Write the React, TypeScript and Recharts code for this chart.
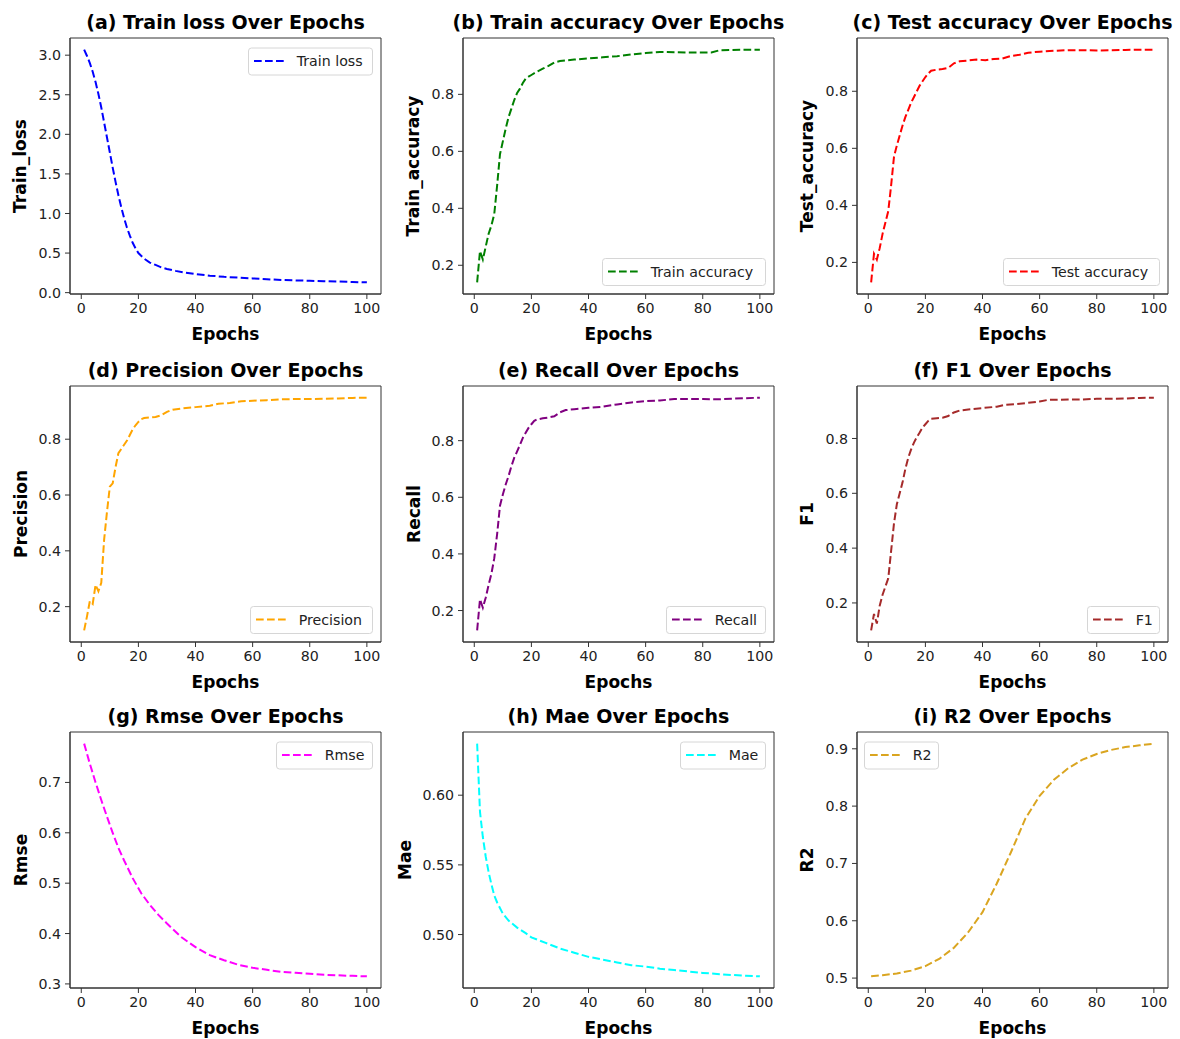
import React from 'react';
import { LineChart, Line, XAxis, YAxis, ReferenceArea } from 'recharts';

const FONT = '"DejaVu Sans", Verdana, sans-serif';

// ---------- data ----------
const xTicks = [0, 20, 40, 60, 80, 100];

const epochsLoss = [1,2,3,4,5,6,7,8,9,10,11,12,13,14,15,16,17,18,19,20,22,24,26,28,30,33,36,40,45,50,55,60,65,70,75,80,85,90,95,100];
const trainLoss = [3.07,2.99,2.90,2.79,2.66,2.51,2.34,2.15,1.96,1.77,1.58,1.40,1.23,1.08,0.94,0.82,0.72,0.63,0.56,0.50,0.43,0.38,0.35,0.32,0.30,0.275,0.255,0.235,0.215,0.20,0.19,0.18,0.17,0.16,0.155,0.15,0.145,0.14,0.135,0.13];

const epochsTrainAcc = [1,2,3,4,5,6,7,8,9,10,11,12,13,14,15,16,17,18,19,20,22,24,26,28,30,35,40,45,50,55,60,65,70,75,80,83,86,90,95,100];
const trainAcc = [0.14,0.25,0.22,0.265,0.31,0.34,0.38,0.48,0.59,0.635,0.68,0.72,0.75,0.78,0.805,0.82,0.84,0.855,0.862,0.868,0.88,0.89,0.90,0.912,0.917,0.922,0.926,0.93,0.934,0.94,0.945,0.949,0.948,0.947,0.947,0.947,0.955,0.956,0.957,0.957];

const epochsTestAcc = [1,2,3,4,5,6,7,8,9,10,11,12,13,14,15,16,17,18,19,20,21,22,24,26,28,30,32,35,38,41,44,47,50,53,56,60,65,70,75,80,85,90,95,100];
const testAcc = [0.13,0.23,0.21,0.25,0.30,0.34,0.38,0.47,0.57,0.61,0.645,0.68,0.71,0.735,0.76,0.78,0.80,0.82,0.835,0.85,0.862,0.872,0.876,0.878,0.882,0.898,0.905,0.908,0.911,0.909,0.913,0.915,0.924,0.928,0.935,0.939,0.942,0.944,0.944,0.943,0.944,0.945,0.946,0.946];

const epochsPrecision = [1,2,3,4,5,6,7,8,9,10,11,12,13,14,15,16,17,18,19,20,21,22,24,26,28,30,32,35,40,45,48,52,56,60,65,70,75,80,85,90,95,100];
const precision = [0.115,0.165,0.22,0.21,0.278,0.255,0.285,0.44,0.54,0.63,0.642,0.70,0.75,0.765,0.78,0.795,0.815,0.835,0.85,0.862,0.872,0.876,0.878,0.880,0.886,0.898,0.906,0.91,0.915,0.92,0.927,0.93,0.936,0.938,0.94,0.943,0.944,0.944,0.945,0.946,0.948,0.949];

const epochsRecall = [1,2,3,4,5,6,7,8,9,10,11,12,13,14,15,16,17,18,19,20,21,22,24,26,28,30,32,35,40,45,50,55,60,65,70,75,80,85,90,95,100];
const recall = [0.13,0.24,0.21,0.245,0.29,0.33,0.385,0.47,0.57,0.61,0.645,0.675,0.71,0.74,0.762,0.785,0.81,0.828,0.845,0.858,0.87,0.875,0.879,0.882,0.886,0.90,0.908,0.911,0.916,0.92,0.928,0.935,0.94,0.942,0.947,0.947,0.947,0.946,0.948,0.95,0.952];

const epochsF1 = [1,2,3,4,5,6,7,8,9,10,11,12,13,14,15,16,17,18,19,20,21,22,24,26,28,30,32,35,40,45,48,52,56,60,63,70,75,80,85,90,95,100];
const f1 = [0.10,0.16,0.125,0.19,0.23,0.26,0.29,0.39,0.49,0.56,0.60,0.64,0.69,0.73,0.76,0.785,0.805,0.822,0.84,0.852,0.864,0.872,0.874,0.876,0.882,0.895,0.902,0.906,0.911,0.916,0.923,0.926,0.93,0.935,0.941,0.942,0.942,0.945,0.945,0.946,0.948,0.949];

const epochsRmse = [1,3,5,7,9,11,13,15,18,21,24,27,30,35,40,45,50,55,60,65,70,75,80,85,90,95,100];
const rmse = [0.777,0.737,0.70,0.665,0.632,0.60,0.57,0.545,0.51,0.48,0.457,0.437,0.42,0.393,0.373,0.357,0.347,0.338,0.332,0.328,0.324,0.322,0.32,0.318,0.317,0.316,0.315];

const epochsMae = [1,2,3,4,5,6,7,8,10,12,15,18,20,25,30,35,40,45,50,55,60,65,70,75,80,85,90,95,100];
const mae = [0.637,0.588,0.570,0.556,0.545,0.536,0.528,0.523,0.515,0.51,0.505,0.501,0.498,0.494,0.490,0.487,0.484,0.482,0.480,0.478,0.477,0.4755,0.4745,0.4735,0.4725,0.4717,0.471,0.4705,0.470];

const epochsR2 = [1,5,10,15,20,25,30,35,40,45,50,55,60,65,70,75,80,85,90,95,100];
const r2 = [0.503,0.505,0.508,0.513,0.521,0.534,0.553,0.58,0.615,0.665,0.72,0.778,0.818,0.846,0.866,0.881,0.891,0.898,0.903,0.906,0.909];

const ticksLoss = [0, 0.5, 1.0, 1.5, 2.0, 2.5, 3.0];
const ticksAcc = [0.2, 0.4, 0.6, 0.8];
const ticksRmse = [0.3, 0.4, 0.5, 0.6, 0.7];
const ticksMae = [0.5, 0.55, 0.6];
const ticksR2 = [0.5, 0.6, 0.7, 0.8, 0.9];

// ---------- layout ----------
const PLOT_LEFTS = [70, 463, 857];
const PLOT_TOPS = [38, 386, 732];
const PW = 311;
const PH = 256;
const OX = 70;
const OY = 40;

type Cfg = {
  title: string;
  ylabel: string;
  legend: string;
  color: string;
  epochs: number[];
  values: number[];
  yTicks: number[];
  decimals: number;
  legendPos: 'ur' | 'lr' | 'ul';
  legendW: number;
  ylabelGap: number;
};

const panels: Cfg[] = [
  { title: '(a) Train loss Over Epochs', ylabel: 'Train_loss', legend: 'Train loss', color: '#0000ff', epochs: epochsLoss, values: trainLoss, yTicks: ticksLoss, decimals: 1, legendPos: 'ur', legendW: 125, ylabelGap: 44.5 },
  { title: '(b) Train accuracy Over Epochs', ylabel: 'Train_accuracy', legend: 'Train accuracy', color: '#008000', epochs: epochsTrainAcc, values: trainAcc, yTicks: ticksAcc, decimals: 1, legendPos: 'lr', legendW: 164, ylabelGap: 44 },
  { title: '(c) Test accuracy Over Epochs', ylabel: 'Test_accuracy', legend: 'Test accuracy', color: '#ff0000', epochs: epochsTestAcc, values: testAcc, yTicks: ticksAcc, decimals: 1, legendPos: 'lr', legendW: 157, ylabelGap: 44.5 },
  { title: '(d) Precision Over Epochs', ylabel: 'Precision', legend: 'Precision', color: '#ffa500', epochs: epochsPrecision, values: precision, yTicks: ticksAcc, decimals: 1, legendPos: 'lr', legendW: 123, ylabelGap: 42.8 },
  { title: '(e) Recall Over Epochs', ylabel: 'Recall', legend: 'Recall', color: '#800080', epochs: epochsRecall, values: recall, yTicks: ticksAcc, decimals: 1, legendPos: 'lr', legendW: 100, ylabelGap: 42.6 },
  { title: '(f) F1 Over Epochs', ylabel: 'F1', legend: 'F1', color: '#a52a2a', epochs: epochsF1, values: f1, yTicks: ticksAcc, decimals: 1, legendPos: 'lr', legendW: 73, ylabelGap: 44.5 },
  { title: '(g) Rmse Over Epochs', ylabel: 'Rmse', legend: 'Rmse', color: '#ff00ff', epochs: epochsRmse, values: rmse, yTicks: ticksRmse, decimals: 1, legendPos: 'ur', legendW: 97, ylabelGap: 42.8 },
  { title: '(h) Mae Over Epochs', ylabel: 'Mae', legend: 'Mae', color: '#00ffff', epochs: epochsMae, values: mae, yTicks: ticksMae, decimals: 2, legendPos: 'ur', legendW: 86, ylabelGap: 52.5 },
  { title: '(i) R2 Over Epochs', ylabel: 'R2', legend: 'R2', color: '#daa520', epochs: epochsR2, values: r2, yTicks: ticksR2, decimals: 1, legendPos: 'ul', legendW: 75, ylabelGap: 44.5 },
];

function padDomain(vals: number[]): [number, number] {
  const lo = Math.min(...vals);
  const hi = Math.max(...vals);
  const r = hi - lo;
  return [lo - 0.05 * r, hi + 0.05 * r];
}

const DASH = '7.7 3.3';

function Panel({ cfg, col, row }: { cfg: Cfg; col: number; row: number }) {
  const left = PLOT_LEFTS[col] - OX;
  const top = PLOT_TOPS[row] - OY;
  const data = cfg.epochs.map((e, i) => ({ epoch: e, v: cfg.values[i] }));
  const xDom = padDomain(cfg.epochs);
  const yDom = padDomain(cfg.values);
  const W = 393;
  const H = 346;
  const LH = 28;
  const x1 = OX + PW;
  const y1 = OY + PH;
  let lx = x1 - 8 - cfg.legendW;
  let ly = OY + 9.5;
  if (cfg.legendPos === 'lr') ly = y1 - 8 - LH;
  if (cfg.legendPos === 'ul') lx = OX + 7;
  const tickStyle = { fontSize: 14.2, fill: '#222', fontFamily: FONT };
  return (
    <div style={{ position: 'absolute', left, top, width: W, height: H }}>
      <div style={{ position: 'absolute', left: 0, top: OY - 10 }}>
        <LineChart width={OX + PW + 10} height={10 + PH + 30} data={data} margin={{ top: 10, right: 10, bottom: 0, left: 0 }}>
          <XAxis
            dataKey="epoch"
            type="number"
            domain={xDom}
            ticks={xTicks}
            allowDataOverflow
            height={30}
            tick={tickStyle}
            tickSize={5}
            tickMargin={4}
            stroke="#333"
            interval={0}
          />
          <YAxis
            type="number"
            domain={yDom}
            ticks={cfg.yTicks}
            allowDataOverflow
            width={OX}
            tick={tickStyle}
            tickSize={5}
            tickMargin={4}
            stroke="#333"
            interval={0}
            tickFormatter={(v: number) => v.toFixed(cfg.decimals)}
          />
          <ReferenceArea
            x1={xDom[0]}
            x2={xDom[1]}
            y1={yDom[0]}
            y2={yDom[1]}
            fill="none"
            fillOpacity={0}
            stroke="#333"
            strokeWidth={1}
            strokeOpacity={1}
            ifOverflow="visible"
          />
          <Line
            type="linear"
            dataKey="v"
            stroke={cfg.color}
            strokeWidth={2}
            strokeDasharray={DASH}
            dot={false}
            activeDot={false}
            isAnimationActive={false}
          />
        </LineChart>
      </div>
      <svg width={W} height={H} style={{ position: 'absolute', left: 0, top: 0, overflow: 'visible', pointerEvents: 'none' }}>
        <text x={OX + PW / 2} y={OY - 9} textAnchor="middle" fontFamily={FONT} fontWeight="bold" fontSize={19} fill="#000">
          {cfg.title}
        </text>
        <text x={OX + PW / 2} y={y1 + 46} textAnchor="middle" fontFamily={FONT} fontWeight="bold" fontSize={17} fill="#000">
          Epochs
        </text>
        <text
          transform={`translate(${OX - cfg.ylabelGap}, ${OY + PH / 2}) rotate(-90)`}
          x={0}
          y={0}
          textAnchor="middle"
          fontFamily={FONT}
          fontWeight="bold"
          fontSize={17}
          fill="#000"
        >
          {cfg.ylabel}
        </text>
        <g transform={`translate(${lx}, ${ly})`}>
          <rect x={0.5} y={0.5} width={cfg.legendW - 1} height={LH - 1} rx={3} ry={3} fill="#fff" fillOpacity={0.8} stroke="#d6d6d6" strokeWidth={1} />
          <line x1={6} y1={13.5} x2={36} y2={13.5} stroke={cfg.color} strokeWidth={2} strokeDasharray={DASH} />
          <text x={48.7} y={18.8} fontFamily={FONT} fontSize={14.2} fill="#222">
            {cfg.legend}
          </text>
        </g>
      </svg>
    </div>
  );
}

export default function App() {
  return (
    <div
      style={{
        position: 'absolute',
        left: 0,
        top: 0,
        width: 1180,
        height: 1039,
        overflow: 'hidden',
        background: '#fff',
        fontFamily: FONT,
      }}
    >
      {panels.map((cfg, i) => (
        <Panel key={i} cfg={cfg} col={i % 3} row={Math.floor(i / 3)} />
      ))}
    </div>
  );
}
